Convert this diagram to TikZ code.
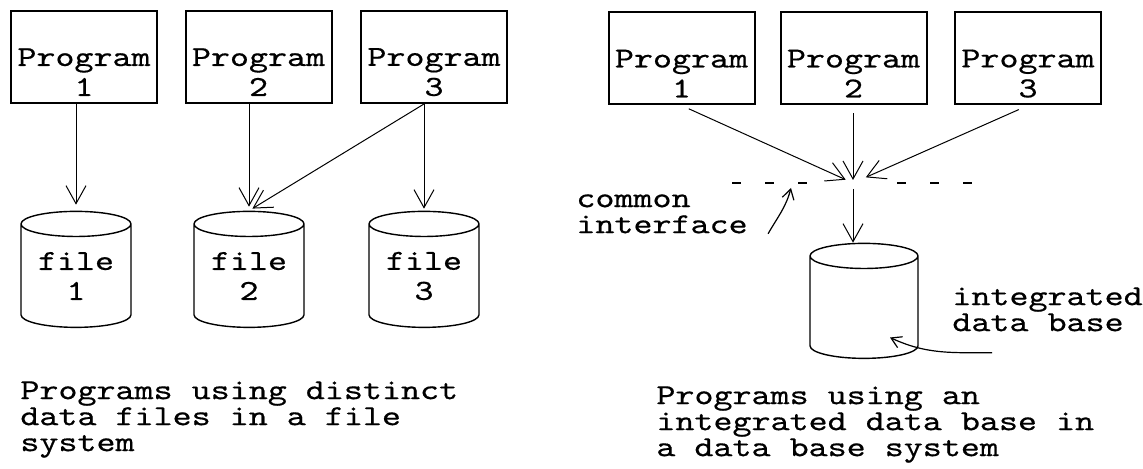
\documentclass[tikz,border=0pt]{standalone}
\usepackage{fontspec}
\setmonofont{lmmono10-regular.otf}[FakeStretch=1.25, FakeBold=0.5]
\usetikzlibrary{arrows.meta,shapes.geometric}

\def\picW{1143}
\def\picH{469}

\newcommand\boxfont{\ttfamily\fontsize{14.5}{15}\selectfont}
\newcommand\notefont{\ttfamily\fontsize{14.5}{13}\selectfont}
\newcommand\boxtop{\rule{0pt}{24pt}}

\tikzset{
  prog/.style={draw, line width=1pt, minimum width=73pt, minimum height=46pt,
    inner sep=0pt, align=center, font=\boxfont},
  store/.style={cylinder, shape border rotate=90, draw, line width=0.7pt, aspect=0.33,
    minimum width=55pt, minimum height=58pt, inner sep=0pt, align=center, font=\boxfont},
  note/.style={inner sep=0pt, align=left, anchor=north west, font=\notefont},
  feed/.style={->, line width=0.5pt},
  pointer/.style={-{Straight Barb[length=5pt, width=6pt]}, line width=0.6pt},
  ifaceline/.style={line width=0.8pt, dash pattern=on 4.5pt off 12pt},
}

\begin{document}
\begin{tikzpicture}[x=0.5pt, y=-0.5pt, >={Straight Barb[length=9pt, width=10pt]}]
  \useasboundingbox (0,0) rectangle (\picW,\picH);

  % file system: one file per program
  \foreach \n/\px/\fx in {1/84/76, 2/258.5/249, 3/434/424} {
      \node[prog] (p\n) at (\px,57) {\boxtop Program\\\n};
      \node[store] (f\n) at (\fx,276) {file\\\n};
  }
  \draw[feed, shorten >=3pt] (f1.north |- p1.south) -- (f1.north);
  \draw[feed, shorten >=2pt] (f2.north |- p2.south) -- (f2.north);
  \draw[feed, shorten >=2pt] (f3.north |- p3.south) -- (f2.north);
  \draw[feed, shorten >=1pt] (f3.north |- p3.south) -- (f3.north);
  \node[note] (capfile) at (20,381) {Programs using distinct\\data files in a file\\system};

  % data base system: all programs through one interface
  \foreach \n/\rx in {1/681.5, 2/853.5, 3/1028} {
      \node[prog] (r\n) at (\rx,58.5) {\boxtop Program\\\n};
  }
  \coordinate (iface) at (853,183);
  \node[store, minimum width=54pt, minimum height=57.5pt] (db) at (864,307.5) {\phantom{file}};
  \draw[feed, shorten <=4pt, shorten >=4pt] (r1.south) -- (iface);
  \draw[feed, shorten <=4pt, shorten >=1.5pt] (iface |- r2.south) -- (iface);
  \draw[feed, shorten <=5pt, shorten >=7pt] (r3.south) -- (iface);
  \draw[feed, shorten <=3pt] (iface) -- (iface |- db.north);
  \draw[ifaceline] ([xshift=-60.5pt]iface) -- ([xshift=-20.5pt]iface);
  \draw[ifaceline] ([xshift=22pt]iface) -- ([xshift=60pt]iface);

  \node[note] (ciface) at (576,194) {common\\interface};
  \node[note] (dblbl) at (952,287) {integrated\\data base};
  \draw[pointer] ([xshift=10pt]ciface.south east) to[out=60, in=-105] ([shift={(-62,5)}]iface);
  \draw[pointer] ([shift={(40,21)}]dblbl.south west) to[out=180, in=-25] ([shift={(26,30)}]db.center);
  \node[note] (capdb) at (656,386) {Programs using an\\integrated data base in\\a data base system};
\end{tikzpicture}
\end{document}
